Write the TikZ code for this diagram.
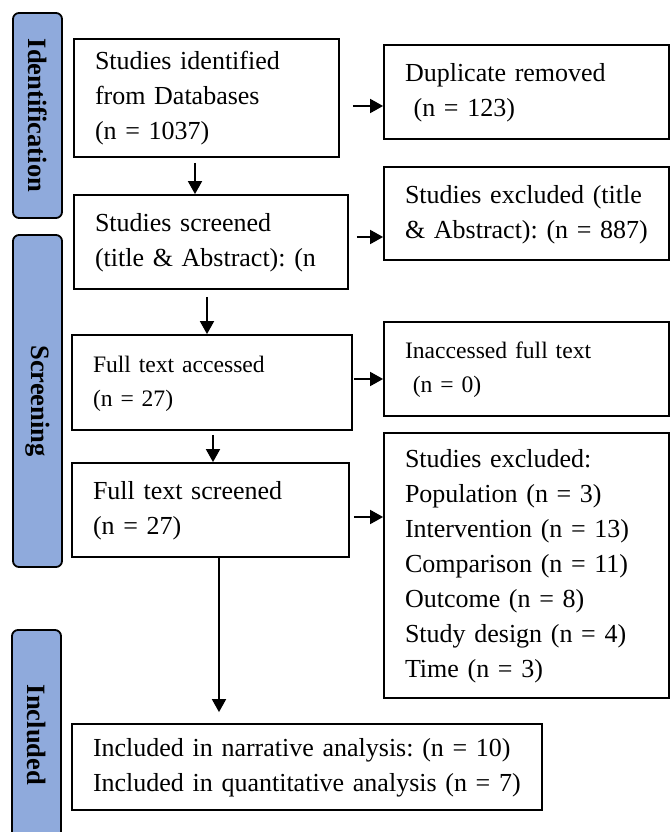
\documentclass[tikz,border=0pt]{standalone}
\usepackage{fontspec}
\setmainfont{Liberation Serif}
\frenchspacing
\usetikzlibrary{arrows.meta,positioning,calc}
\definecolor{prsBlue}{HTML}{8FAADC}
\tikzset{
  >={Triangle[length=13pt,width=14pt]},
  stage/.style={draw=black, line width=1.8pt, rounded corners=6pt, fill=prsBlue,
              rotate=-90, minimum height=49pt, inner sep=0pt,
              font=\fontsize{26.5pt}{30pt}\selectfont\bfseries},
  box/.style={draw=black, line width=1.8pt, align=left, inner xsep=21pt, inner ysep=0pt,
              font=\fontsize{26pt}{35pt}\selectfont,
              execute at begin node=\strut, execute at end node=\strut},
  sbox/.style={box, font=\fontsize{23.6pt}{34pt}\selectfont},
  flow/.style={->, line width=1.8pt},
}

\begin{document}
\begin{tikzpicture}[x=1pt,y=-1pt]
  \clip (0,0) rectangle (670,832);
  % phases
  \node[stage,minimum width=205pt] (idf) at (37.5,115.5) {Identification};
  \node[stage,minimum width=332pt] (scr) at (37.5,401) {Screening};
  \node[stage,minimum width=210pt] (inc) at (36.5,735) {Included};
  % main column
  \node[box,text width=223pt,minimum height=118pt] (ident) at (206.5,98)
    {Studies identified\\from Databases\\(n = 1037)};
  \node[box,text width=232pt,minimum height=94pt] (screen) at (211,242)
    {Studies screened\\(title \& Abstract): (n};
  \node[sbox,text width=238pt,minimum height=95pt] (access) at (212,382.5)
    {Full text accessed\\(n = 27)};
  \node[box,text width=235pt,minimum height=94pt] (fulltx) at (210.5,510)
    {Full text screened\\(n = 27)};
  \node[box,text width=428pt,minimum height=86pt] (incl) at (307,767)
    {Included in narrative analysis: (n = 10)\\Included in quantitative analysis (n = 7)};
  % exclusions
  \node[box,text width=243pt,minimum height=94pt] (dup) at (526.5,92)
    {Duplicate removed\\~(n = 123)};
  \node[box,text width=243pt,minimum height=93pt] (exTA) at (526.5,213.5)
    {Studies excluded (title\\\& Abstract): (n = 887)};
  \node[sbox,text width=243pt,minimum height=94pt] (inacc) at (526.5,369)
    {Inaccessed full text\\~(n = 0)};
  \node[box,text width=243pt,minimum height=265pt] (exFT) at (526.5,565.5)
    {Studies excluded:\\Population (n = 3)\\Intervention (n = 13)\\Comparison (n = 11)\\Outcome (n = 8)\\Study design (n = 4)\\Time (n = 3)};

  \draw[flow] ([xshift=-11.5pt,yshift=-5pt]ident.south) coordinate (v1) -- (v1 |- screen.north);
  \draw[flow] ([xshift=-4pt,yshift=-7pt]screen.south) coordinate (v2) -- (v2 |- access.north);
  \draw[flow] ([xshift=1pt,yshift=-4pt]access.south) coordinate (v3) -- (v3 |- fulltx.north);
  \coordinate (etop) at ([yshift=11pt]incl.north);
  \draw[flow] ([xshift=8.5pt]fulltx.south) coordinate (v4) -- (v4 |- etop);
  \foreach \a/\b/\dx/\dy in {ident/dup/13/-8, screen/exTA/8/5,
                             access/inacc/1/3.5, fulltx/exFT/4/-7}{
    \draw[flow] ([xshift=\dx pt,yshift=\dy pt]\a.east) coordinate (h) -- (h -| \b.west);}
\end{tikzpicture}
\end{document}
